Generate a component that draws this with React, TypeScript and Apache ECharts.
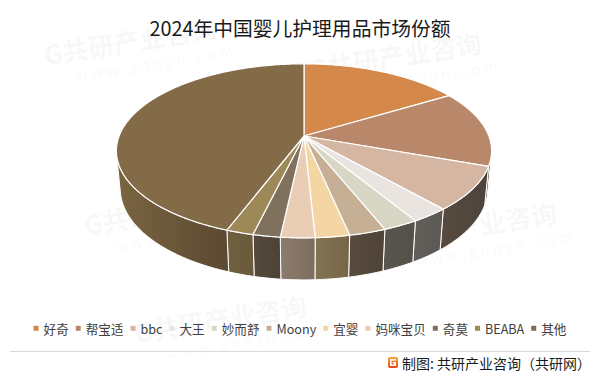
import React, { useEffect, useRef } from "react";
import * as echarts from "echarts";

const titleText = "2024年中国婴儿护理用品市场份额";
const categories = ["好奇", "帮宝适", "bbc", "大王", "妙而舒", "Moony", "宜婴", "妈咪宝贝", "奇莫", "BEABA", "其他"];
const shares = [16.3, 14.2, 8.1, 2.8, 2.6, 2.7, 2.5, 2.5, 2.0, 2.0, 44.3];
const topColors = ["#D4894A", "#B9886A", "#D4B6A3", "#EAE4E0", "#D8D6C5", "#C5B095", "#F3D6A3", "#EACDB5", "#80705E", "#9D8958", "#836B48"];
const sideLeft = ["#6A5038", "#5C4C40", "#574B41", "#625E5A", "#59564D", "#574B3E", "#837453", "#8B7C6E", "#554A3C", "#706240", "#7A6541"];
const sideRight = ["#5E4632", "#54463B", "#4E433A", "#5C5854", "#535047", "#4F4437", "#766648", "#7D6D5F", "#4C4235", "#685A3A", "#5B4931"];
const footerText = "制图: 共研产业咨询（共研网）";

const FONT = "'Noto Sans CJK SC', 'Noto Sans', sans-serif";

// projection constants
const CX = 304;
const CY = 136;
const F = 964;
const D = 5.215;
const S = 0.457;
const C = 0.889;
const H = 0.23;

function project(deg: number, y: number): number[] {
  const t = (deg * Math.PI) / 180;
  const x = Math.sin(t);
  const z = -Math.cos(t);
  const v = y * C - z * S;
  const d = D - (z * C + y * S);
  return [CX + (F * x) / d, CY - (F * v) / d];
}

export default function App() {
  const ref = useRef<HTMLDivElement>(null);
  useEffect(() => {
    if (!ref.current) return;
    const chart = echarts.init(ref.current, null, { renderer: "svg" });
    const total = shares.reduce((a, b) => a + b, 0);
    const starts: number[] = [];
    const ends: number[] = [];
    let acc = 0;
    shares.forEach((v) => {
      starts.push((acc / total) * 360);
      acc += v;
      ends.push((acc / total) * 360);
    });
    const phi = (Math.acos(1 / (D * C)) * 180) / Math.PI;
    const A1 = 180 - phi;
    const A2 = 180 + phi;

    const renderItem = (i: number) => (params: any, api: any) => {
      const s = api.value(0);
      const e = api.value(1);
      const children: any[] = [];
      const ss = Math.max(s, A1);
      const se = Math.min(e, A2);
      if (se > ss) {
        const topPts: number[][] = [];
        const botPts: number[][] = [];
        const n = Math.max(2, Math.ceil(se - ss));
        for (let k = 0; k <= n; k++) {
          const a = ss + ((se - ss) * k) / n;
          topPts.push(project(a, 0));
          botPts.push(project(a, -H));
        }
        children.push({
          type: "polygon",
          shape: { points: topPts.concat(botPts.reverse()) },
          style: {
            fill: new echarts.graphic.LinearGradient(0, 0, 1, 0, [
              { offset: 0, color: sideLeft[i] },
              { offset: 1, color: sideRight[i] },
            ]),
            stroke: "#ffffff",
            lineWidth: 1,
          },
        });
      }
      const pts: number[][] = [[CX, CY]];
      const n2 = Math.max(2, Math.ceil((e - s) * 2));
      for (let k = 0; k <= n2; k++) {
        pts.push(project(s + ((e - s) * k) / n2, 0));
      }
      children.push({
        type: "polygon",
        shape: { points: pts },
        style: { fill: topColors[i], stroke: "#ffffff", lineWidth: 1.2, lineJoin: "round" },
      });
      return { type: "group", children };
    };

    const wm = (x: number, y: number) => ({
      type: "group",
      x,
      y,
      rotation: 0.16,
      z: 50,
      silent: true,
      children: [
        {
          type: "text",
          style: {
            text: "G共研产业咨询",
            x: 0,
            y: 0,
            align: "center",
            verticalAlign: "middle",
            fontSize: 26,
            fontWeight: "bold",
            fontFamily: FONT,
            fill: "rgba(180,180,180,0.09)",
          },
        },
        {
          type: "text",
          style: {
            text: "w w w . g o n y n . c o m",
            x: 20,
            y: 26,
            align: "center",
            verticalAlign: "middle",
            fontSize: 15,
            fontFamily: FONT,
            fill: "rgba(180,180,180,0.09)",
          },
        },
      ],
    });

    chart.setOption({
      animation: false,
      backgroundColor: "#ffffff",
      title: {
        text: titleText,
        left: "center",
        top: 13,
        textStyle: { fontSize: 19.8, fontWeight: "normal", color: "#1a1a1a", fontFamily: FONT },
      },
      legend: {
        data: categories,
        left: "center",
        top: 317,
        icon: "rect",
        itemWidth: 5,
        itemHeight: 5,
        itemGap: 7,
        selectedMode: false,
        textStyle: { fontSize: 12.6, color: "#404040", fontFamily: FONT },
      },
      graphic: [
        wm(130, 40),
        wm(395, 55),
        wm(170, 210),
        wm(470, 225),
        wm(220, 318),
        {
          type: "line",
          shape: { x1: 10, y1: 351.5, x2: 590, y2: 351.5 },
          style: { stroke: "#d9d9d9", lineWidth: 1 },
        },
        {
          type: "group",
          x: 388,
          y: 357,
          children: [
            {
              type: "rect",
              shape: { x: 0, y: 0, width: 10, height: 11, r: 2 },
              style: {
                fill: new echarts.graphic.LinearGradient(0, 0, 0, 1, [
                  { offset: 0, color: "#F7A532" },
                  { offset: 1, color: "#E8471E" },
                ]),
              },
            },
            { type: "rect", shape: { x: 2, y: 2, width: 6, height: 1.6 }, style: { fill: "#fff" } },
            { type: "rect", shape: { x: 2, y: 2, width: 1.6, height: 7 }, style: { fill: "#fff" } },
            { type: "rect", shape: { x: 2, y: 7.4, width: 6, height: 1.6 }, style: { fill: "#fff" } },
            { type: "rect", shape: { x: 6.4, y: 5, width: 1.6, height: 4 }, style: { fill: "#fff" } },
            { type: "rect", shape: { x: 4.8, y: 5, width: 3.2, height: 1.5 }, style: { fill: "#fff" } },
          ],
        },
        {
          type: "text",
          x: 591,
          y: 363,
          style: {
            text: footerText,
            align: "right",
            verticalAlign: "middle",
            fontSize: 14,
            fontFamily: FONT,
            fill: "#1a1a1a",
          },
        },
      ],
      series: categories.map((name, i) => ({
        type: "custom",
        name,
        coordinateSystem: "none",
        itemStyle: { color: topColors[i] },
        data: [[starts[i], ends[i]]],
        renderItem: renderItem(i),
        z: 2,
      })),
    });
    return () => chart.dispose();
  }, []);
  return (
    <div
      ref={ref}
      style={{ position: "fixed", left: 0, top: 0, width: 600, height: 378 }}
    />
  );
}
